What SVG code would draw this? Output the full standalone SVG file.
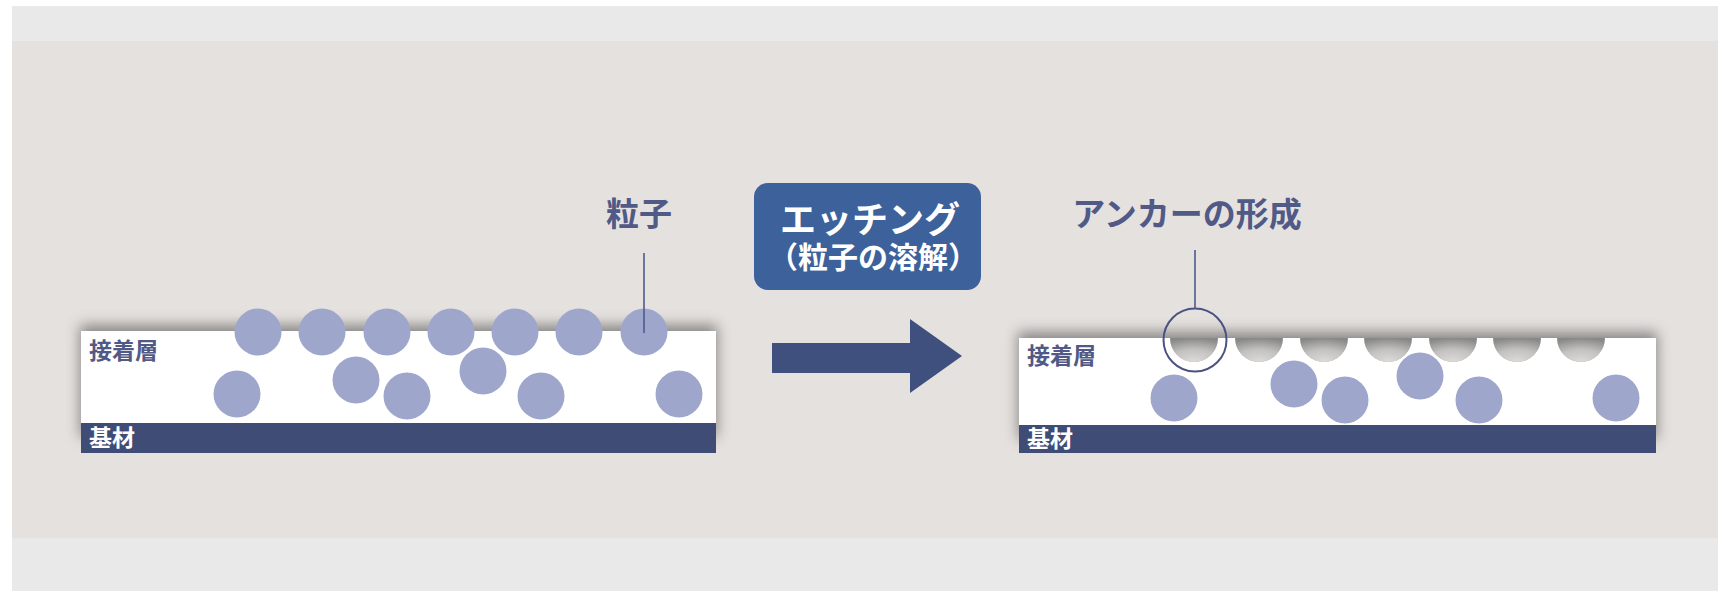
<svg xmlns="http://www.w3.org/2000/svg" width="1729" height="592" viewBox="0 0 1729 592">
  <defs>
    <style>
      .lbl { font-family: "Noto Sans CJK JP", "Noto Sans", sans-serif; font-weight: 700; }
      .dark { fill: #515987; }
      .white { fill: #ffffff; }
      .ptc { fill: #9ea6cc; }
      .layer { fill: #ffffff; }
      .base { fill: #3f4c76; }
      .shadow { fill: #5f5f5f; opacity: 0.7; filter: url(#blur); }
      .lead { stroke: #4f5a8c; stroke-width: 1.6; fill: none; }
      .pit { fill: url(#pitGrad); }
    </style>
    <filter id="blur" x="-10%" y="-40%" width="120%" height="180%">
      <feGaussianBlur stdDeviation="7"/>
    </filter>
    <radialGradient id="pitGrad" cx="0.5" cy="1" r="1" fx="0.5" fy="0.95">
      <stop offset="0" stop-color="#dcdad8"/>
      <stop offset="0.5" stop-color="#c2c1bf"/>
      <stop offset="1" stop-color="#888888"/>
    </radialGradient>
  </defs>

  <!-- page background -->
  <rect x="12" y="6" width="1706" height="585" fill="#e8e9e8"/>
  <rect x="12" y="41" width="1706" height="497" fill="#e5e1de"/>

  <!-- left cross-section (before etching) -->
  <g id="before">
    <rect class="shadow" x="80" y="325" width="637" height="112"/>
    <rect class="layer" x="81" y="331" width="635" height="92"/>
    <rect class="base" x="81" y="423" width="635" height="30"/>
    <text class="lbl dark" x="89" y="359" font-size="23">接着層</text>
    <text class="lbl white" x="89" y="446" font-size="23">基材</text>
    <g id="particles-top">
      <circle class="ptc" cx="258" cy="332" r="23.5"/>
      <circle class="ptc" cx="322" cy="332" r="23.5"/>
      <circle class="ptc" cx="387" cy="332" r="23.5"/>
      <circle class="ptc" cx="451" cy="332" r="23.5"/>
      <circle class="ptc" cx="515" cy="332" r="23.5"/>
      <circle class="ptc" cx="579" cy="332" r="23.5"/>
      <circle class="ptc" cx="644" cy="332" r="23.5"/>
    </g>
    <g id="particles-inner-left">
      <circle class="ptc" cx="237" cy="394" r="23.5"/>
      <circle class="ptc" cx="356" cy="380" r="23.5"/>
      <circle class="ptc" cx="407" cy="396" r="23.5"/>
      <circle class="ptc" cx="483" cy="371" r="23.5"/>
      <circle class="ptc" cx="541" cy="396" r="23.5"/>
      <circle class="ptc" cx="679" cy="394" r="23.5"/>
    </g>
  </g>

  <g id="label-particle">
    <text class="lbl dark" x="639" y="226" font-size="33" text-anchor="middle">粒子</text>
  </g>

  <!-- etching step -->
  <g id="etching">
    <rect x="754" y="183" width="227" height="107" rx="14" fill="#3c619b"/>
    <text class="lbl white" x="870" y="233" font-size="36" text-anchor="middle">エッチング</text>
    <text class="lbl white" x="873" y="268" font-size="30" text-anchor="middle">（粒子の溶解）</text>
  </g>

  <!-- right cross-section (after etching) -->
  <g id="after">
    <rect class="shadow" x="1018" y="332" width="639" height="107"/>
    <g id="pits">
      <path class="pit" d="M1170,338 A24,24 0 0 0 1218,338 Z"/>
      <path class="pit" d="M1235,338 A24,24 0 0 0 1283,338 Z"/>
      <path class="pit" d="M1300,338 A24,24 0 0 0 1348,338 Z"/>
      <path class="pit" d="M1364,338 A24,24 0 0 0 1412,338 Z"/>
      <path class="pit" d="M1429,338 A24,24 0 0 0 1477,338 Z"/>
      <path class="pit" d="M1493,338 A24,24 0 0 0 1541,338 Z"/>
      <path class="pit" d="M1557,338 A24,24 0 0 0 1605,338 Z"/>
    </g>
    <path class="layer" d="M1019,338 H1170 A24,24 0 0 0 1218,338 H1235 A24,24 0 0 0 1283,338 H1300 A24,24 0 0 0 1348,338 H1364 A24,24 0 0 0 1412,338 H1429 A24,24 0 0 0 1477,338 H1493 A24,24 0 0 0 1541,338 H1557 A24,24 0 0 0 1605,338 H1656 V425 H1019 Z"/>
    <rect class="base" x="1019" y="425" width="637" height="28"/>
    <text class="lbl dark" x="1027" y="364" font-size="23">接着層</text>
    <text class="lbl white" x="1027" y="447" font-size="23">基材</text>
    <g id="particles-inner-right">
      <circle class="ptc" cx="1174" cy="398" r="23.5"/>
      <circle class="ptc" cx="1294" cy="384" r="23.5"/>
      <circle class="ptc" cx="1345" cy="400" r="23.5"/>
      <circle class="ptc" cx="1420" cy="376" r="23.5"/>
      <circle class="ptc" cx="1479" cy="400" r="23.5"/>
      <circle class="ptc" cx="1616" cy="398" r="23.5"/>
    </g>
    <circle id="anchor-highlight" cx="1195" cy="340" r="31.5" fill="none" stroke="#4a5282" stroke-width="2"/>
  </g>

  <g id="label-anchor">
    <text class="lbl dark" x="1187" y="226" font-size="33" text-anchor="middle">アンカーの形成</text>
  </g>

  <!-- connectors -->
  <g id="connectors">
    <line class="lead" x1="644" y1="253" x2="644" y2="333"/>
    <line class="lead" x1="1195" y1="250" x2="1195" y2="308.5"/>
    <path d="M772,343 H910 V319 L962,356 L910,393 V373 H772 Z" fill="#3f4f7e"/>
  </g>
</svg>
